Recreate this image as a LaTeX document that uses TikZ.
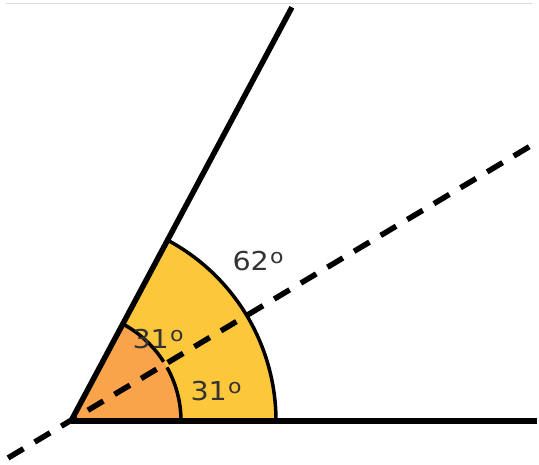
\documentclass[tikz,border=0pt]{standalone}
\usepackage{fontspec}
\setmainfont{DejaVu Sans}
\usetikzlibrary{calc}
\definecolor{sunyellow}{HTML}{FDC73C}
\definecolor{warmorange}{HTML}{F9A44B}
\definecolor{labelgrey}{HTML}{333333}
\definecolor{frameline}{HTML}{DADADA}
\newcommand{\deglabel}[1]{{\fontsize{26}{26}\selectfont #1\kern1pt\raisebox{0.27em}{\fontsize{20}{20}\selectfont o}}}
\begin{document}
\begin{tikzpicture}[x=1pt,y=1pt,
  ray/.style={line width=5.5pt,black},
  bisect/.style={line width=5.5pt,black,dash pattern=on 18pt off 13pt},
  arcline/.style={line width=3.5pt,black},
  anglabel/.style={text=labelgrey,inner sep=0pt,xscale=1.1}]
\useasboundingbox (0,0) rectangle (539,464);
\coordinate (V) at (71,43);
\coordinate (H) at (537,43);
\coordinate (U) at ($(V)+(61.9:469)$);
\coordinate (B) at ($(V)+(30.9:538)$);
\coordinate (L) at ($(V)+(210.4:73)$);
% top grey frame line
\coordinate (fl) at (6,460);
\coordinate (fr) at (532,460);
\draw[frameline,line width=1pt] (fl) -- (fr);
% sectors
\fill[sunyellow] (V) -- ++(0:205) arc[start angle=0,end angle=61.9,radius=205] -- cycle;
\draw[arcline] ($(V)+(0:205)$) arc[start angle=0,end angle=61.9,radius=205];
\fill[warmorange] (V) -- ++(0:110) arc[start angle=0,end angle=61.9,radius=110] -- cycle;
\draw[arcline] ($(V)+(0:110)$) arc[start angle=0,end angle=29.2,radius=110];
\draw[arcline] ($(V)+(32.6:110)$) arc[start angle=32.6,end angle=61.9,radius=110];
% rays
\draw[ray] (V) -- (H);
\draw[ray] (V) -- (U);
\draw[bisect] (L) -- (B);
% labels
\node[anglabel] (l62) at (258,203) {\deglabel{62}};
\node[anglabel] (l31a) at (158,125) {\deglabel{31}};
\node[anglabel] (l31b) at (216,73) {\deglabel{31}};
\end{tikzpicture}
\end{document}
